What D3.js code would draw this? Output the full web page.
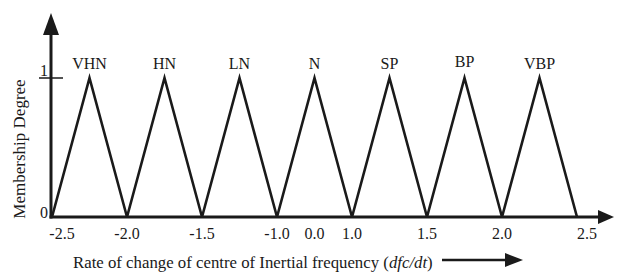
<!DOCTYPE html>
<html><head><meta charset="utf-8">
<script src="https://cdn.jsdelivr.net/npm/d3@7"></script>
<style>body{margin:0;background:#fff}svg{display:block}text{font-family:"Liberation Serif","Times New Roman",serif;fill:#1a1a1a}</style>
</head><body>
<script>
// Data
const sets = ["VHN","HN","LN","N","SP","BP","VBP"];
const feet = [-2.5,-2.0,-1.5,-1.0,1.0,1.5,2.0,2.5];          // triangle bases (breakpoints)
const tickLabels = ["-2.5","-2.0","-1.5","-1.0","0.0","1.0","1.5","2.0","2.5"];
const tickValues = [-2.5,-2.0,-1.5,-1.0,0.0,1.0,1.5,2.0,2.5];
const yTicks = [0,1];

const W=622,H=273;
const svg=d3.select("body").append("svg").attr("width",W).attr("height",H);
const x0=52,x1=577;
const x=d3.scaleLinear().domain(feet).range(feet.map((d,i)=>x0+i*(x1-x0)/(feet.length-1)));
const y=d3.scaleLinear().domain([0,1]).range([217,78]);
const ink="#1a1a1a";

// triangles
const tri = sets.map((s,i)=>{const a=feet[i],b=feet[i+1];const m=x.invert((x(a)+x(b))/2);return {name:s,pts:[[a,0],[m,1],[b,0]]};});
const line=d3.line().x(d=>x(d[0])).y(d=>y(d[1]));
svg.selectAll("path.tri").data(tri).join("path").attr("class","tri")
  .attr("d",d=>line(d.pts)).attr("fill","none").attr("stroke",ink).attr("stroke-width",2.6).attr("stroke-linejoin","miter");
svg.selectAll("text.set").data(tri).join("text").attr("class","set")
  .attr("x",d=>x(d.pts[1][0])).attr("y",d=>d.name==="BP"?67:69).attr("text-anchor","middle")
  .attr("font-size",16).text(d=>d.name);

// axes
const ax=51, ay=y(0);
svg.append("line").attr("x1",ax).attr("x2",ax).attr("y1",ay+1.5).attr("y2",33).attr("stroke",ink).attr("stroke-width",3);
svg.append("path").attr("d",`M${ax-8},35L${ax},13L${ax+8},35Z`).attr("fill",ink);
svg.append("line").attr("x1",ax-1.5).attr("x2",600).attr("y1",ay).attr("y2",ay).attr("stroke",ink).attr("stroke-width",3);
svg.append("path").attr("d",`M598,${ay-7}L614,${ay}L598,${ay+7}Z`).attr("fill",ink);

// y ticks
svg.append("line").attr("x1",39).attr("x2",63).attr("y1",y(1)).attr("y2",y(1)).attr("stroke",ink).attr("stroke-width",1.5);
svg.selectAll("text.yt").data(yTicks).join("text").attr("class","yt")
  .attr("x",48).attr("y",d=>d===1?y(1)-2:y(0)+1).attr("text-anchor","end").attr("font-size",16).text(d=>d);

// x tick labels
svg.selectAll("text.xt").data(tickValues).join("text").attr("class","xt")
  .attr("x",(d,i)=>x(d)+(i===0?10:i===tickValues.length-1?10:0)).attr("y",239)
  .attr("text-anchor","middle").attr("font-size",16).text((d,i)=>tickLabels[i]);

// axis titles
svg.append("text").attr("transform",`translate(25,${(80+218)/2}) rotate(-90)`).attr("text-anchor","middle")
  .attr("font-size",17).text("Membership Degree");
const t=svg.append("text").attr("x",73).attr("y",268).attr("font-size",16.8);
t.append("tspan").text("Rate of change of centre of Inertial frequency (");
t.append("tspan").attr("font-style","italic").text("dfc/dt");
t.append("tspan").text(")");
svg.append("line").attr("x1",442).attr("x2",508).attr("y1",260).attr("y2",260).attr("stroke",ink).attr("stroke-width",2.5);
svg.append("path").attr("d","M505,253L523,260L505,267Z").attr("fill",ink);
</script>
</body></html>
